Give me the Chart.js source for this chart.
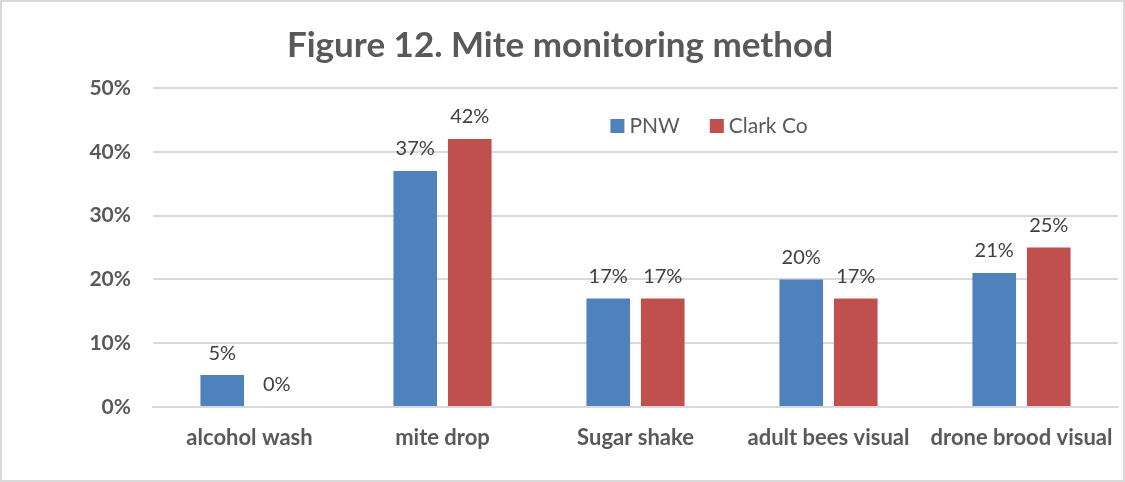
<!DOCTYPE html>
<html>
<head>
<meta charset="utf-8">
<script src="https://cdn.jsdelivr.net/npm/chart.js@4"></script>
<style>
  html, body { margin: 0; padding: 0; background: #fff; }
  .wrap { width: 1121px; height: 478px; border: 2px solid #d9d9d9; }
</style>
</head>
<body>
<div class="wrap"><canvas id="chart" width="1121" height="478"></canvas></div>
<script>
const categories = ['alcohol wash', 'mite drop', 'Sugar shake', 'adult bees visual', 'drone brood visual'];
const pnw = [5, 37, 17, 20, 21];
const clarkCo = [0, 42, 17, 17, 25];
const seriesNames = ['PNW', 'Clark Co'];
const yTicks = [0, 10, 20, 30, 40, 50];

const FONT = 'Lato, Carlito, "Open Sans", sans-serif';
const GREY = '#595959';

// value labels above each bar
const valueLabels = {
    id: 'valueLabels',
    afterDatasetsDraw(chart) {
        const ctx = chart.ctx;
        ctx.save();
        ctx.font = '20px ' + FONT;
        ctx.fillStyle = '#404040';
        ctx.textAlign = 'center';
        ctx.textBaseline = 'bottom';
        chart.data.datasets.forEach((ds, i) => {
            chart.getDatasetMeta(i).data.forEach((bar, j) => {
                ctx.fillText(ds.data[j] + '%', bar.x, bar.y - 12);
            });
        });
        ctx.restore();
    }
};

// legend drawn inside the plot, near the top
const innerLegend = {
    id: 'innerLegend',
    afterDraw(chart) {
        const ctx = chart.ctx;
        const area = chart.chartArea;
        let x = area.left + 0.474 * (area.right - area.left);
        const y = area.top + 38;
        ctx.save();
        ctx.font = '21px ' + FONT;
        ctx.textBaseline = 'middle';
        ctx.textAlign = 'left';
        chart.data.datasets.forEach((ds) => {
            ctx.fillStyle = ds.backgroundColor;
            ctx.fillRect(x, y - 7, 14, 14);
            ctx.fillStyle = GREY;
            ctx.fillText(ds.label, x + 19, y);
            x += 19 + ctx.measureText(ds.label).width + 30;
        });
        ctx.restore();
    }
};

new Chart(document.getElementById('chart'), {
    type: 'bar',
    data: {
        labels: categories,
        datasets: [
            { label: seriesNames[0], data: pnw, backgroundColor: '#4F81BD' },
            { label: seriesNames[1], data: clarkCo, backgroundColor: '#C0504D' }
        ]
    },
    options: {
        responsive: false,
        animation: false,
        layout: { padding: { left: 0, right: 5, top: 0, bottom: 0 } },
        categoryPercentage: 0.565,
        barPercentage: 0.8,
        plugins: {
            legend: { display: false },
            tooltip: { enabled: false },
            title: {
                display: true,
                text: 'Figure 12. Mite monitoring method',
                color: GREY,
                font: { family: FONT, size: 35, weight: 'bold' },
                padding: { top: 23, bottom: 21 }
            }
        },
        scales: {
            x: {
                grid: { display: false },
                border: { color: '#d9d9d9', width: 2 },
                ticks: { color: GREY, font: { family: FONT, size: 22, weight: 'bold' }, padding: 10, maxRotation: 0, autoSkip: false },
                afterFit(scale) { scale.height = 73; }
            },
            y: {
                min: 0,
                max: 50,
                afterBuildTicks(scale) { scale.ticks = yTicks.map(v => ({ value: v })); },
                grid: { color: '#d9d9d9', lineWidth: 2, drawTicks: false },
                border: { display: false },
                ticks: {
                    color: GREY,
                    font: { family: FONT, size: 21, weight: 'bold' },
                    padding: 22,
                    callback: v => v + '%'
                },
                afterFit(scale) { scale.width = 151; }
            }
        }
    },
    plugins: [valueLabels, innerLegend]
});
</script>
</body>
</html>
